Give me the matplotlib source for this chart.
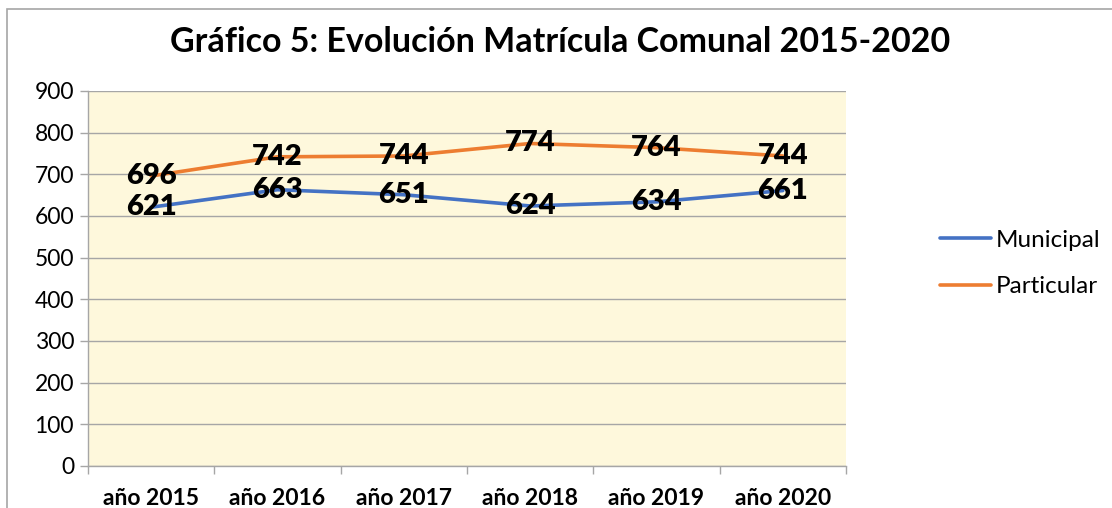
import matplotlib
matplotlib.use("Agg")
import matplotlib.pyplot as plt
from matplotlib.patches import Rectangle

# ----------------------------------------------------------------------
# Data
# ----------------------------------------------------------------------
years = ["año 2015", "año 2016", "año 2017", "año 2018", "año 2019", "año 2020"]
municipal = [621, 663, 651, 624, 634, 661]
particular = [696, 742, 744, 774, 764, 744]

title = "Gráfico 5: Evolución Matrícula Comunal 2015-2020"

plt.rcParams["font.family"] = ["Lato", "DejaVu Sans"]

fig = plt.figure(figsize=(11.12, 5.08), dpi=100)
ax = fig.add_axes([0.0791, 0.0827, 0.6817, 0.7382])

# chart-area border (only the left/top edges fall inside the picture)
fig.patches.append(Rectangle((7 / 1112, -0.05), 1.2, 1 - 9 / 508 + 0.05,
                             transform=fig.transFigure, fill=False,
                             edgecolor="#a6a6a6", linewidth=1.2))

ax.set_facecolor("#fef8dc")
x = range(len(years))
ax.plot(x, municipal, color="#4472c4", linewidth=2.6, label="Municipal",
        solid_capstyle="round")
ax.plot(x, particular, color="#ed7d31", linewidth=2.6, label="Particular",
        solid_capstyle="round")

for series in (municipal, particular):
    for xi, v in zip(x, series):
        ax.text(xi, v, str(v), ha="center", va="center", fontsize=21,
                fontweight="heavy", color="black", zorder=5)

ax.set_xlim(-0.5, len(years) - 0.5)
ax.set_ylim(0, 900)
ax.set_yticks(range(0, 901, 100))
ax.grid(axis="y", color="#a6a6a6", linewidth=1.0)
ax.set_axisbelow(True)

ax.set_xticks(list(x))
ax.set_xticklabels(years, fontsize=16.5, fontweight="bold")
ax.set_xticks([i - 0.5 for i in range(len(years) + 1)], minor=True)
ax.tick_params(axis="x", which="major", length=0, pad=16)
ax.tick_params(axis="x", which="minor", length=6, color="#a6a6a6", width=1)
ax.tick_params(axis="y", length=6, color="#a6a6a6", width=1, labelsize=16.5,
               pad=4)

for side in ("top", "right"):
    ax.spines[side].set_visible(False)
for side in ("left", "bottom"):
    ax.spines[side].set_color("#a6a6a6")
    ax.spines[side].set_linewidth(1.0)

fig.text(0.504, 1 - 42 / 508, title, ha="center", va="center",
         fontsize=24.5, fontweight="bold")

ax.legend(loc="center left", bbox_to_anchor=(1.095, 0.54), frameon=False,
          fontsize=17.5, handlelength=2.1, handletextpad=0.2, labelspacing=1.05)

fig.savefig("out.png", dpi=100)
